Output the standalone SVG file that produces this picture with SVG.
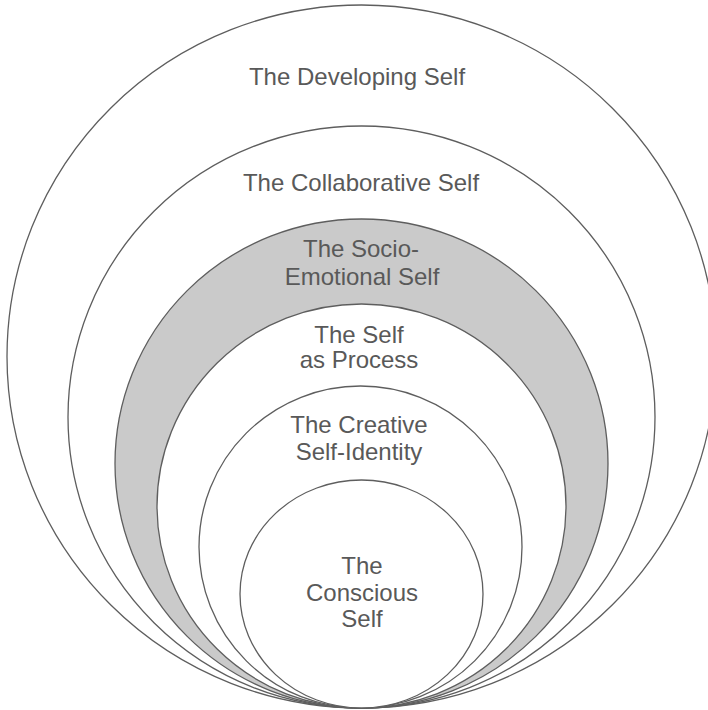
<svg xmlns="http://www.w3.org/2000/svg" width="708" height="710" viewBox="0 0 708 710">
<style>
.ring{fill:#ffffff;stroke:#5e5e5e;stroke-width:1.3}
.shade{fill:#cacaca}
.lbl{font-family:"Liberation Sans",Arial,sans-serif;font-size:24px;fill:#595959;text-anchor:middle}
</style>
<rect width="708" height="710" fill="#ffffff"/>
<g id="developing">
<ellipse class="ring" cx="361.5" cy="356.5" rx="354.5" ry="351.5"/>
<text class="lbl" x="357" y="85">The Developing Self</text>
</g>
<g id="collaborative">
<ellipse class="ring" cx="361.5" cy="417" rx="293.5" ry="291"/>
<text class="lbl" x="361" y="191">The Collaborative Self</text>
</g>
<g id="socio-emotional">
<ellipse class="ring shade" cx="361.5" cy="463.5" rx="246.5" ry="244.5"/>
<text class="lbl" x="361" y="257"><tspan x="361">The Socio-</tspan><tspan x="362" y="285">Emotional Self</tspan></text>
</g>
<g id="process">
<ellipse class="ring" cx="361.5" cy="506" rx="204.5" ry="202"/>
<text class="lbl" x="359" y="343"><tspan x="359">The Self</tspan><tspan x="359" y="368">as Process</tspan></text>
</g>
<g id="creative">
<ellipse class="ring" cx="360.5" cy="547" rx="161.5" ry="161"/>
<text class="lbl" x="359" y="433"><tspan x="359">The Creative</tspan><tspan x="359" y="460">Self-Identity</tspan></text>
</g>
<g id="conscious">
<ellipse class="ring" cx="361.5" cy="594" rx="121.5" ry="114"/>
<text class="lbl" x="362" y="574"><tspan x="362">The</tspan><tspan x="362" y="601">Conscious</tspan><tspan x="362" y="627">Self</tspan></text>
</g>
</svg>
